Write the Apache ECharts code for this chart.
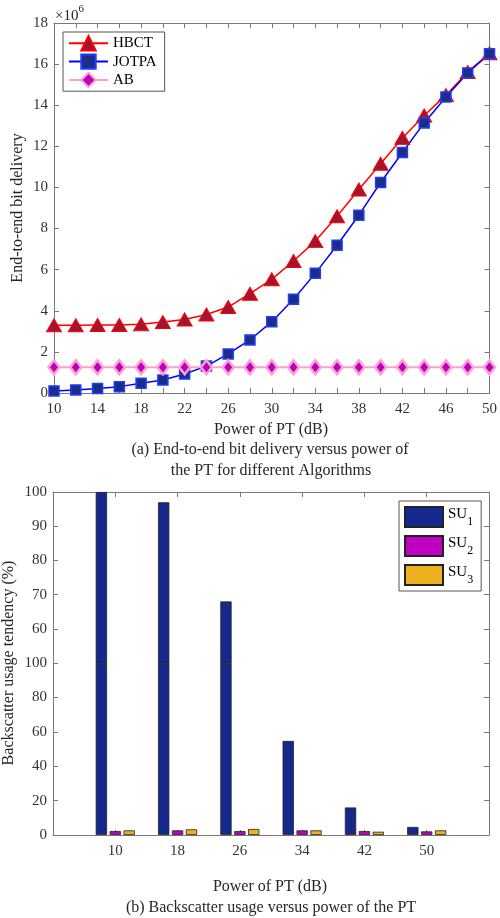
<!DOCTYPE html>
<html>
<head>
<meta charset="utf-8">
<script src="https://cdn.jsdelivr.net/npm/echarts@6/dist/echarts.min.js"></script>
<style>
html,body{margin:0;padding:0;background:#fff;}
#chart{width:500px;height:918px;}
</style>
</head>
<body>
<div id="chart"></div>
<script>
// ---------- (a) End-to-end bit delivery (values in units of 10^6) ----------
const powerPT = [10, 12, 14, 16, 18, 20, 22, 24, 26, 28, 30, 32, 34, 36, 38, 40, 42, 44, 46, 48, 50];
const hbct  = [3.30, 3.30, 3.31, 3.31, 3.34, 3.45, 3.58, 3.82, 4.18, 4.83, 5.53, 6.42, 7.39, 8.60, 9.90, 11.15, 12.41, 13.50, 14.49, 15.62, 16.53];
const jotpa = [0.10, 0.15, 0.22, 0.31, 0.47, 0.63, 0.92, 1.31, 1.90, 2.58, 3.47, 4.56, 5.82, 7.19, 8.65, 10.24, 11.70, 13.14, 14.40, 15.57, 16.51];
const ab    = [1.25, 1.25, 1.25, 1.25, 1.25, 1.25, 1.25, 1.25, 1.25, 1.25, 1.25, 1.25, 1.25, 1.25, 1.25, 1.25, 1.25, 1.25, 1.25, 1.25, 1.25];
const seriesNamesA = ['HBCT', 'JOTPA', 'AB'];
const xLabelsA = [10, 14, 18, 22, 26, 30, 34, 38, 42, 46, 50];

// ---------- (b) Backscatter usage tendency (%) ----------
const suPower = [10, 18, 26, 34, 42, 50];
const su1 = [100, 97, 68, 54.7, 16, 4.7];
const su2 = [2.3, 2.7, 2.3, 2.7, 2.3, 2.1];
const su3 = [2.7, 3.3, 3.5, 2.7, 1.9, 2.7];
const seriesNamesB = ['SU1', 'SU2', 'SU3'];
// broken y axis: lower segment 0..100 (step 20), upper segment 50..100 (step 10)
const lowerMin = 0, lowerMax = 100, lowerStep = 20;
const upperMin = 50, upperMax = 100, upperStep = 10;
const breakAt = 60;

const FONT = 'Liberation Serif';
const AXC = '#7a7a7a';
const LBL = '#333333';

function valAxis(o) {
  const base = {
    type: 'value',
    axisLine: { show: true, onZero: false, lineStyle: { color: AXC, width: 1 } },
    axisTick: { show: true, inside: true, length: 5, lineStyle: { color: AXC, width: 1 } },
    splitLine: { show: false },
    axisLabel: { show: false, fontFamily: FONT, fontSize: 15, color: LBL }
  };
  const r = Object.assign({}, base, o);
  if (o.axisLabel) r.axisLabel = Object.assign({}, base.axisLabel, o.axisLabel);
  return r;
}

const xy = (xs, ys) => xs.map((x, i) => [x, ys[i]]);

const gridA = { left: 54, top: 23, width: 436, height: 370 };
const gridLow = { left: 53, top: 663, width: 436, height: 172 };
const gridUp = { left: 53, top: 492, width: 436, height: 171 };

const xAxes = [
  valAxis({ gridIndex: 0, position: 'bottom', min: 10, max: 50, interval: 2,
    axisLabel: { show: true, margin: 9, formatter: v => xLabelsA.includes(v) ? String(v) : '' } }),
  valAxis({ gridIndex: 0, position: 'top', min: 10, max: 50, interval: 2 }),
  valAxis({ gridIndex: 1, position: 'bottom', min: 2, max: 58, interval: 8,
    axisLabel: { show: true, margin: 9, formatter: v => suPower.includes(v) ? String(v) : '' } }),
  valAxis({ gridIndex: 2, position: 'top', min: 2, max: 58, interval: 8 })
];
const yAxes = [
  valAxis({ gridIndex: 0, position: 'left', min: 0, max: 18, interval: 2,
    axisLabel: { show: true, margin: 6 } }),
  valAxis({ gridIndex: 0, position: 'right', min: 0, max: 18, interval: 2 }),
  valAxis({ gridIndex: 1, position: 'left', min: lowerMin, max: lowerMax, interval: lowerStep,
    axisLabel: { show: true, margin: 6 } }),
  valAxis({ gridIndex: 1, position: 'right', min: lowerMin, max: lowerMax, interval: lowerStep }),
  valAxis({ gridIndex: 2, position: 'left', min: upperMin, max: upperMax, interval: upperStep,
    axisLabel: { show: true, margin: 6, formatter: v => v === upperMin ? '' : String(v) } }),
  valAxis({ gridIndex: 2, position: 'right', min: upperMin, max: upperMax, interval: upperStep })
];

const lineStyles = {
  HBCT:  { symbol: 'triangle', size: [15, 13], line: '#ff0000', lw: 1.5, fill: '#a2142f', edge: '#ff0000', ew: 1 },
  JOTPA: { symbol: 'rect', size: [10, 10], line: '#0000ff', lw: 1.5, fill: '#1c2d86', edge: '#1f3cff', ew: 1.5 },
  AB:    { symbol: 'diamond', size: [11, 14], line: '#ff9fcc', lw: 2, fill: '#bb00c4', edge: '#ff9fcc', ew: 2.5 }
};
const dataA = { HBCT: hbct, JOTPA: jotpa, AB: ab };

const series = [];
seriesNamesA.forEach(n => {
  const s = lineStyles[n];
  series.push({
    type: 'line', name: n, xAxisIndex: 0, yAxisIndex: 0,
    data: xy(powerPT, dataA[n]),
    symbol: s.symbol, symbolSize: s.size, showAllSymbol: true,
    lineStyle: { color: s.line, width: s.lw },
    itemStyle: { color: s.fill, borderColor: s.edge, borderWidth: s.ew },
    emphasis: { disabled: true }
  });
});

const barColors = { SU1: '#14298b', SU2: '#c000c0', SU3: '#edb120' };
const dataB = { SU1: su1, SU2: su2, SU3: su3 };
seriesNamesB.forEach(n => {
  const vals = dataB[n];
  const common = {
    type: 'bar', name: n, barWidth: 11.3, barGap: '23%',
    itemStyle: { color: barColors[n], borderColor: '#222', borderWidth: 0.8 },
    emphasis: { disabled: true }
  };
  // lower segment of the broken axis
  series.push(Object.assign({}, common, {
    xAxisIndex: 2, yAxisIndex: 2,
    data: suPower.map((x, i) => [x, vals[i] >= breakAt ? lowerMax : vals[i]])
  }));
  // upper segment of the broken axis
  series.push(Object.assign({}, common, {
    xAxisIndex: 3, yAxisIndex: 4,
    data: suPower.map((x, i) => [x, vals[i] >= breakAt ? vals[i] : '-'])
  }));
});

const txt = (x, y, text, size, rot) => ({
  type: 'text', x: x, y: y, rotation: rot || 0,
  style: { text: text, fontFamily: FONT, fontSize: size, fill: '#262626',
    textAlign: 'center', textVerticalAlign: 'middle', align: 'center', verticalAlign: 'middle' }
});

const option = {
  animation: false,
  backgroundColor: '#fff',
  grid: [gridA, gridLow, gridUp],
  xAxis: xAxes,
  yAxis: yAxes,
  legend: [
    {
      data: seriesNamesA, orient: 'vertical', left: 63, top: 32,
      itemWidth: 39, itemHeight: 18, itemGap: 2, padding: [3, 8, 3, 5],
      borderColor: '#555', borderWidth: 1, backgroundColor: '#fff',
      textStyle: { fontFamily: FONT, fontSize: 15, color: '#000' },
      selectedMode: false
    },
    {
      data: seriesNamesB, orient: 'vertical', left: 399, top: 501,
      itemWidth: 38, itemHeight: 20, itemGap: 7, padding: [5, 8, 5, 5],
      icon: 'rect',
      borderColor: '#555', borderWidth: 1, backgroundColor: '#fff',
      formatter: n => '{a|' + n.slice(0, 2) + '}{b|' + n.slice(2) + '}',
      textStyle: { fontFamily: FONT, fontSize: 15, color: '#000',
        rich: {
          a: { fontFamily: FONT, fontSize: 15, color: '#000', verticalAlign: 'top' },
          b: { fontFamily: FONT, fontSize: 12, color: '#000', verticalAlign: 'bottom', lineHeight: 21 }
        } },
      selectedMode: false
    }
  ],
  graphic: [
    {
      type: 'text', x: 55, y: 4,
      style: { text: '{a|×10}{b|6}', fontFamily: FONT, fill: '#262626',
        rich: {
          a: { fontFamily: FONT, fontSize: 15, color: '#262626', verticalAlign: 'bottom', lineHeight: 20 },
          b: { fontFamily: FONT, fontSize: 11, color: '#262626', verticalAlign: 'top' }
        } }
    },
    txt(18, 208, 'End-to-end bit delivery', 16, Math.PI / 2),
    txt(271, 430, 'Power of PT (dB)', 16),
    txt(270, 450, '(a) End-to-end bit delivery versus power of', 16),
    txt(271, 471, 'the PT for different Algorithms', 16),
    txt(9, 663, 'Backscatter usage tendency (%)', 16, Math.PI / 2),
    txt(270, 887, 'Power of PT (dB)', 16),
    txt(271, 908, '(b) Backscatter usage versus power of the PT', 16)
  ],
  series: series
};

const chart = echarts.init(document.getElementById('chart'), null, { renderer: 'canvas' });
chart.setOption(option);
</script>
</body>
</html>
